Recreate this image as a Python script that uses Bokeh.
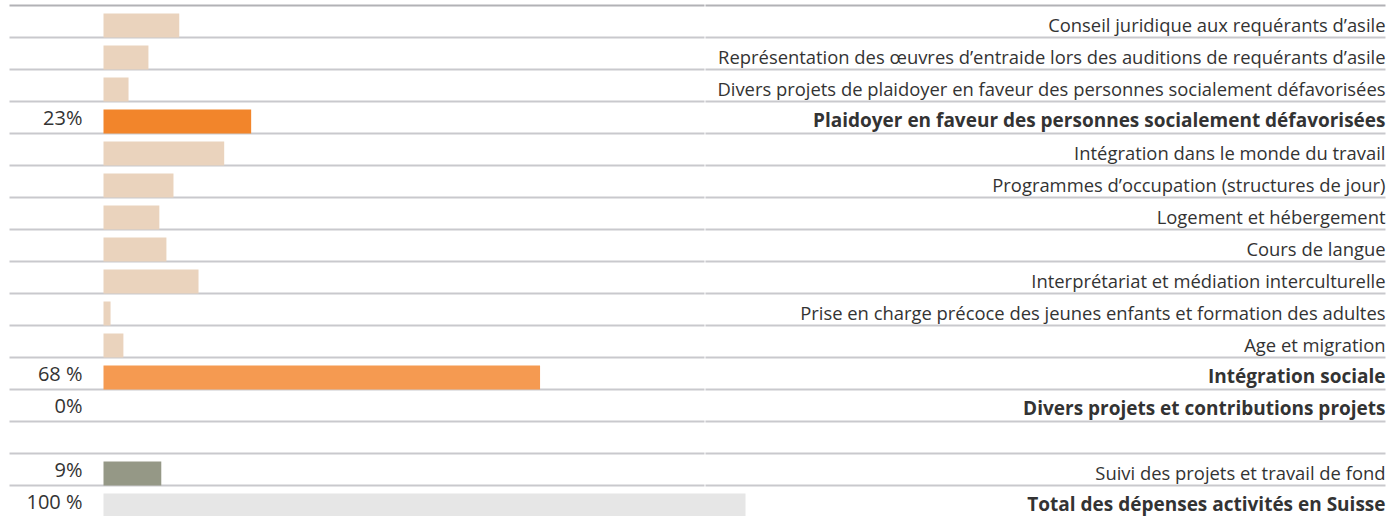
from bokeh.plotting import figure
from bokeh.models import Range1d, ColumnDataSource
from bokeh.core.properties import value
from bokeh.embed import file_html
from bokeh.resources import INLINE

# ---- data ----
labels = [
    "Conseil juridique aux requérants d’asile",
    "Représentation des œuvres d’entraide lors des auditions de requérants d’asile",
    "Divers projets de plaidoyer en faveur des personnes socialement défavorisées",
    "Plaidoyer en faveur des personnes socialement défavorisées",
    "Intégration dans le monde du travail",
    "Programmes d’occupation (structures de jour)",
    "Logement et hébergement",
    "Cours de langue",
    "Interprétariat et médiation interculturelle",
    "Prise en charge précoce des jeunes enfants et formation des adultes",
    "Age et migration",
    "Intégration sociale",
    "Divers projets et contributions projets",
    "",
    "Suivi des projets et travail de fond",
    "Total des dépenses activités en Suisse",
]
values = [11.8, 7.0, 3.9, 23.0, 18.8, 10.9, 8.7, 9.8, 14.8, 1.1, 3.1, 68.0, 0.0, None, 9.0, 100.0]
pct_labels = ["", "", "", "23%", "", "", "", "", "", "", "", "68 %", "0%", "", "9%", "100 %"]
bold = [False, False, False, True, False, False, False, False, False, False, False, True, True, False, False, True]
colors = ["#EAD3BD", "#EAD3BD", "#EAD3BD", "#F2852B", "#EAD3BD", "#EAD3BD", "#EAD3BD", "#EAD3BD",
          "#EAD3BD", "#EAD3BD", "#EAD3BD", "#F59A51", "#EAD3BD", "#FFFFFF", "#959886", "#E6E6E6"]

W, H = 1388, 516
px_per = 6.42          # pixels per percent
x0_px = 103            # bar origin in pixels
row_h = 32
top_px = 5

x_start = -x0_px / px_per
x_end = (W - x0_px) / px_per
center0 = top_px + row_h / 2
y_top = -center0 / row_h
y_bottom = (H - center0) / row_h

p = figure(width=W, height=H, output_backend="svg", toolbar_location=None,
           x_range=Range1d(x_start, x_end), y_range=Range1d(y_bottom, y_top),
           min_border=0, outline_line_color=None, background_fill_color="white",
           border_fill_color="white")
p.xaxis.visible = False
p.yaxis.visible = False
p.grid.visible = False

n = len(labels)
idx = list(range(n))

# separator lines
line_left = (9 - x0_px) / px_per
line_mid = (704 - x0_px) / px_per
line_right = (1385 - x0_px) / px_per
for k in range(n):
    yk = k - 0.5
    col = "#B2B2B6" if k == 0 else "#C9C9CD"
    p.segment(x0=[line_left, line_mid + 0.15], y0=[yk, yk], x1=[line_mid, line_right], y1=[yk, yk],
              line_color=col, line_width=2)

# bars
bi = [i for i in idx if values[i] is not None and values[i] > 0]
src = ColumnDataSource(dict(y=[i + 0.125 for i in bi], right=[values[i] for i in bi],
                            color=[colors[i] for i in bi]))
p.hbar(y="y", left=0, right="right", height=0.75, color="color", source=src, line_color=None)

# category labels
for b in (False, True):
    ii = [i for i in idx if bold[i] == b and labels[i]]
    s = ColumnDataSource(dict(x=[line_right] * len(ii), y=[i + 0.08 for i in ii],
                              t=[labels[i] for i in ii]))
    p.text(x="x", y="y", text="t", source=s, text_align="right", text_baseline="alphabetic",
           text_font=value("Open Sans"), text_font_size="19px" if b else "18.4px",
           text_font_style="bold" if b else "normal", text_color="#333333")

# percentage labels
ii = [i for i in idx if pct_labels[i]]
s = ColumnDataSource(dict(x=[(82 - x0_px) / px_per] * len(ii), y=[i + 0.0 for i in ii],
                          t=[pct_labels[i] for i in ii]))
p.text(x="x", y="y", text="t", source=s, text_align="right", text_baseline="middle",
       text_font=value("Open Sans"), text_font_size="20px", text_color="#333333")

open("out.html", "w").write(file_html(p, INLINE))
